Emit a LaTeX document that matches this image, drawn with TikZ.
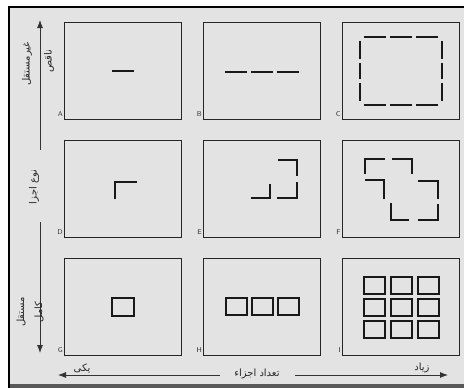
\documentclass[tikz,border=0pt]{standalone}
\usepackage{fontspec}
\usetikzlibrary{arrows.meta,positioning}
\newfontfamily\farsi[Script=Arabic]{DejaVu Sans}
\TeXXeTstate=1

\begin{document}
\begin{tikzpicture}[x=1pt, y=-1pt, node distance={118pt and 139pt}, on grid,
        main/.style = {draw=black!85, line width=1.1pt, minimum width=117pt, minimum height=97pt, inner sep=0pt},
        part/.style = {line width=2pt, black!90},
        tag/.style = {font=\sffamily\fontsize{7}{7}\selectfont, inner sep=1pt, anchor=south east, text=black!80},
        say/.style = {font=\farsi\fontsize{10}{10}\selectfont, inner sep=0pt, text=black!85},
        arr/.style = {-{Latex[length=8pt,width=6pt]}, line width=0.8pt, black!80}]
            \useasboundingbox (0,0) rectangle (464,388);
            \fill[black!11] (9,7) rectangle (464,388);
            \fill[black!65] (9,384) rectangle (464,388);
            \draw[black, line width=1.5pt] (9,388) -- (9,7) -- (464,7);

            \node[main] (A) at (123,71) {};
            \node[main] (B) [right=of A] {};
            \node[main] (C) [right=of B] {};
            \node[main] (D) [below=of A] {};
            \node[main] (E) [right=of D] {};
            \node[main] (F) [right=of E] {};
            \node[main] (G) [below=of D] {};
            \node[main] (H) [right=of G] {};
            \node[main] (I) [right=of H] {};

            \foreach \n in {A,B,C,D,E,F,G,H,I}
                \node[tag] (t\n) at ([yshift=2pt]\n.south west) {\n};

            % incomplete parts
            \draw[part, shift={(A)}] (-11,0) -- (11,0);
            \foreach \a/\b in {-37/-15,-11/11,15/37}
                \draw[part, shift={(B)}] (\a,1) -- (\b,1);
            \begin{scope}[shift={(C)}]
                \foreach \a/\b in {-37/-15,-11/11,15/37} {
                    \draw[part] (\a,-34) -- (\b,-34);
                    \draw[part] (\a,34) -- (\b,34);
                }
                \foreach \a/\b in {-30/-12,-8/8,12/30} {
                    \draw[part] (-41,\a) -- (-41,\b);
                    \draw[part] (41,\a) -- (41,\b);
                }
            \end{scope}

            % corner parts
            \draw[part, shift={(D)}] (-8,10) -- (-8,-7) -- (14,-7);
            \begin{scope}[shift={(E)}]
                \draw[part] (-11,9) -- (8,9) -- (8,-5);
                \draw[part] (16,-29) -- (35,-29) -- (35,-13);
                \draw[part] (35,-7) -- (35,9) -- (15,9);
            \end{scope}
            \begin{scope}[shift={(F)}]
                \draw[part] (-36,-15) -- (-36,-30) -- (-16,-30);
                \draw[part] (-9,-30) -- (11,-30) -- (11,-15);
                \draw[part] (-36,-9) -- (-17,-9) -- (-17,10);
                \draw[part] (17,-8) -- (37,-8) -- (37,10);
                \draw[part] (-10,14) -- (-10,31) -- (8,31);
                \draw[part] (17,31) -- (37,31) -- (37,15);
            \end{scope}

            % complete parts
            \draw[part, shift={(G)}] (-11,-9) rectangle (11,9);
            \foreach \x in {-26,0,26}
                \draw[part, shift={(H)}] (\x-10.5,-9) rectangle (\x+10.5,8);
            \foreach \x in {-27,0,27}
                \foreach \y in {-22,0,22}
                    \draw[part, shift={(I)}] (\x-10.5,\y-8.5) rectangle (\x+10.5,\y+8.5);

            % axes
            \coordinate (up0) at (40,150);
            \coordinate (up1) at (40,20);
            \coordinate (dn0) at (40,222);
            \coordinate (dn1) at (40,353);
            \coordinate (lf0) at (220,375);
            \coordinate (lf1) at (58,375);
            \coordinate (rt0) at (295,375);
            \coordinate (rt1) at (448,375);
            \draw[arr] (up0) -- (up1);
            \draw[arr] (dn0) -- (dn1);
            \draw[arr] (lf0) -- (lf1);
            \draw[arr] (rt0) -- (rt1);

            \node[say, rotate=90] (dep) at (27,64) {\beginR غیرمستقل\endR};
            \node[say, rotate=90] (part) at (49,61) {\beginR ناقص\endR};
            \node[say, rotate=90] (kind) at (34,187) {\beginR نوع اجزا\endR};
            \node[say, rotate=90] (indep) at (21,312) {\beginR مستقل\endR};
            \node[say, rotate=90] (full) at (39,312) {\beginR کامل\endR};
            \node[say] (one) at (82,368) {\beginR یکی\endR};
            \node[say] (count) at (257,374) {\beginR تعداد اجزاء\endR};
            \node[say] (many) at (422,368) {\beginR زیاد\endR};
        \end{tikzpicture}
\end{document}
